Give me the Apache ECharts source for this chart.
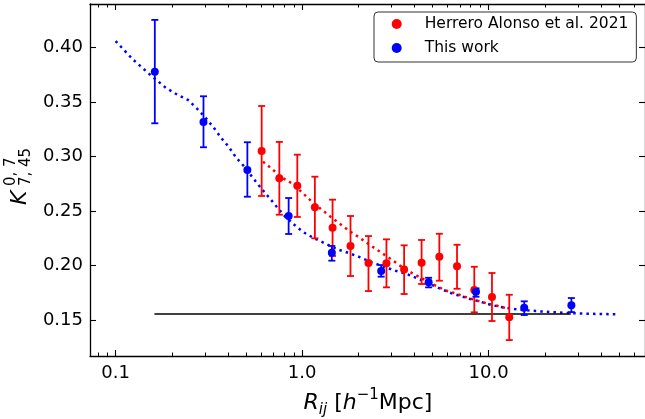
<!DOCTYPE html>
<html><head><meta charset="utf-8">
<script src="https://cdn.jsdelivr.net/npm/echarts@6/dist/echarts.min.js"></script>
<style>html,body{margin:0;padding:0;background:#fff}#c{width:645px;height:419px}</style>
</head><body><div id="c"></div>
<script>
// ---- data ----
const redName = 'Herrero Alonso et al. 2021';
const blueName = 'This work';

const redX  = [0.607, 0.755, 0.9426, 1.171, 1.457, 1.818, 2.270, 2.834, 3.525, 4.374, 5.445, 6.774, 8.384, 10.43, 12.91];
const redY  = [0.3052, 0.2801, 0.2733, 0.2535, 0.2348, 0.2180, 0.2023, 0.2021, 0.1964, 0.2026, 0.2080, 0.1993, 0.1775, 0.1711, 0.1525];
const redLo = [0.2639, 0.2467, 0.2446, 0.2250, 0.2088, 0.1904, 0.1766, 0.1800, 0.1739, 0.1831, 0.1861, 0.1787, 0.1571, 0.1491, 0.1316];
const redHi = [0.3465, 0.3135, 0.3018, 0.2816, 0.2605, 0.2455, 0.2271, 0.2241, 0.2186, 0.2235, 0.2292, 0.2191, 0.1989, 0.1932, 0.1732];

const blueX  = [0.1623, 0.296, 0.5088, 0.847, 1.444, 2.655, 4.77, 8.56, 15.53, 27.8];
const blueY  = [0.3780, 0.3318, 0.2877, 0.2455, 0.2118, 0.1950, 0.1846, 0.1760, 0.1613, 0.1635];
const blueLo = [0.3306, 0.3086, 0.2632, 0.2290, 0.2045, 0.1898, 0.1800, 0.1714, 0.1546, 0.1573];
const blueHi = [0.4255, 0.3554, 0.3132, 0.2620, 0.2180, 0.2005, 0.1888, 0.1791, 0.1672, 0.1702];

const blueModelX = [0.100,0.1242,0.1559,0.1866,0.2137,0.2447,0.2734,0.3043,0.3358,0.3675,0.4042,0.4444,0.4904,0.5413,0.5973,0.6594,0.7276,0.806,0.912,1.019,1.162,1.336,1.543,1.781,2.049,2.364,2.741,3.166,3.659,4.204,4.834,5.513,6.215,6.997,7.98,9.173,10.38,11.88,13.73,16.11,18.75,21.66,25.2,29.59,34.6,40.76,50.1];
const blueModelY = [0.406,0.389,0.374,0.363,0.357,0.352,0.344,0.3355,0.3266,0.3174,0.309,0.2988,0.2908,0.281,0.2719,0.2632,0.2544,0.2455,0.2372,0.2305,0.225,0.2201,0.2149,0.2115,0.2076,0.203,0.1989,0.1953,0.1922,0.1878,0.1833,0.1787,0.1751,0.1723,0.1693,0.1665,0.1638,0.1617,0.1601,0.1589,0.158,0.1573,0.1567,0.1562,0.1558,0.1555,0.1553];

const redModelX = [0.6168,0.6928,0.7796,0.8817,0.9901,1.1145,1.256,1.421,1.607,1.818,2.057,2.327,2.632,3.025,3.451,3.905,4.472,5.138,5.843,6.635,7.532,8.56,9.757,11.13,12.70];
const redModelY = [0.2954,0.2884,0.2807,0.2755,0.2678,0.2595,0.2522,0.2449,0.2379,0.2311,0.225,0.2186,0.2124,0.2054,0.1984,0.1929,0.1876,0.1821,0.1773,0.1745,0.1711,0.1681,0.1653,0.1631,0.1604];

const refLineX = [0.1615, 27.6];
const refLineY = 0.1555;

const xMajorTicks = [0.1, 1, 10];
const xMinorTicks = [0.08, 0.09, 0.2, 0.3, 0.4, 0.5, 0.6, 0.7, 0.8, 0.9, 2, 3, 4, 5, 6, 7, 8, 9, 20, 30, 40, 50, 60];
const yTicks = [0.15, 0.20, 0.25, 0.30, 0.35, 0.40];
const xRange = [0.0729, 69.0];
const yRange = [0.117, 0.4401];

// ---- helpers ----
const zip = (a, b) => a.map((v, i) => [v, b[i]]);
const zip4 = (a, b, c, d) => a.map((v, i) => [v, b[i], c[i], d[i]]);
const FONT = 'DejaVu Sans';
const RED = '#ff0000', BLUE = '#0000ff';

function xLabel(v) {
  const e = Math.round(Math.log10(v));
  if (Math.abs(Math.log10(v) - e) > 1e-6) return '';
  return e < 0 ? Math.pow(10, e).toFixed(-e) : Math.pow(10, e).toFixed(1);
}

function errorBarSeries(name, color, data) {
  return {
    type: 'custom', name: name, xAxisIndex: 0, yAxisIndex: 0, z: 3, silent: true,
    data: data,
    renderItem: function (params, api) {
      const x = api.value(0);
      const top = api.coord([x, api.value(3)]);
      const bot = api.coord([x, api.value(2)]);
      const cw = 3.5;
      const st = { stroke: color, lineWidth: 1.8 };
      return { type: 'group', children: [
        { type: 'line', shape: { x1: top[0], y1: top[1], x2: bot[0], y2: bot[1] }, style: st },
        { type: 'line', shape: { x1: top[0] - cw, y1: top[1], x2: top[0] + cw, y2: top[1] }, style: st },
        { type: 'line', shape: { x1: bot[0] - cw, y1: bot[1], x2: bot[0] + cw, y2: bot[1] }, style: st }
      ]};
    }
  };
}

// minor log ticks on bottom and top edges, placed through the x scale
const minorTickSeries = {
  type: 'custom', name: 'minor-ticks', xAxisIndex: 0, yAxisIndex: 0, z: 5, silent: true, clip: false,
  data: xMinorTicks.map(v => [v, yRange[0]]),
  renderItem: function (params, api) {
    const cs = params.coordSys;
    const px = Math.round(api.coord([api.value(0), yRange[0]])[0]) + 0.5;
    const yb = cs.y + cs.height, yt = cs.y;
    const st = { stroke: '#000', lineWidth: 1 };
    return { type: 'group', children: [
      { type: 'line', shape: { x1: px, y1: yb, x2: px, y2: yb - 3.5 }, style: st },
      { type: 'line', shape: { x1: px, y1: yt, x2: px, y2: yt + 3.5 }, style: st }
    ]};
  }
};

const axisLineStyle = { color: '#000', width: 1.3 };
function xAxisDef(pos) {
  return {
    type: 'log', logBase: 10, min: xRange[0], max: xRange[1], position: pos, gridIndex: 0,
    axisLine: { show: true, onZero: false, lineStyle: axisLineStyle },
    axisTick: { show: true, inside: true, length: 6, customValues: xMajorTicks,
                lineStyle: { color: '#000', width: 1.1 } },
    axisLabel: { show: pos === 'bottom', customValues: xMajorTicks, formatter: xLabel,
                 fontSize: 18, fontFamily: FONT, color: '#000', margin: 8 },
    splitLine: { show: false }, minorTick: { show: false }
  };
}
function yAxisDef(pos) {
  return {
    type: 'value', min: yRange[0], max: yRange[1], position: pos, gridIndex: 0,
    axisLine: { show: true, onZero: false, lineStyle: axisLineStyle },
    axisTick: { show: true, inside: true, length: 6, customValues: yTicks, lineStyle: { color: '#000', width: 1.1 } },
    axisLabel: { show: pos === 'left', customValues: yTicks, formatter: v => v.toFixed(2),
                 fontSize: 18, fontFamily: FONT, color: '#000', margin: 7 },
    splitLine: { show: false }
  };
}

const chart = echarts.init(document.getElementById('c'), null, { renderer: 'canvas' });
chart.setOption({
  animation: false,
  backgroundColor: '#fff',
  grid: { left: 90, top: 4, width: 556, height: 352, containLabel: false },
  xAxis: [xAxisDef('bottom'), xAxisDef('top')],
  yAxis: [yAxisDef('left'), yAxisDef('right')],
  legend: {
    show: true, orient: 'vertical', left: 374, top: 12,
    data: [redName, blueName],
    icon: 'circle', itemWidth: 10, itemHeight: 10, itemGap: 8,
    padding: [4, 8, 6, 17.7],
    backgroundColor: '#fff', borderColor: '#333', borderWidth: 1, borderRadius: 4,
    formatter: n => '{g|}' + n,
    textStyle: { fontSize: 15.5, fontFamily: FONT, color: '#000', lineHeight: 16,
                 rich: { g: { width: 18 } } },
    selectedMode: false
  },
  series: [
    { type: 'line', name: 'model-blue', xAxisIndex: 0, yAxisIndex: 0, data: zip(blueModelX, blueModelY),
      showSymbol: false, silent: true, z: 2,
      lineStyle: { color: BLUE, width: 2.5, type: [2.5, 4.1] } },
    { type: 'line', name: 'model-red', xAxisIndex: 0, yAxisIndex: 0, data: zip(redModelX, redModelY),
      showSymbol: false, silent: true, z: 2,
      lineStyle: { color: RED, width: 2.5, type: [2.5, 4.1] } },
    { type: 'line', name: 'ref', xAxisIndex: 0, yAxisIndex: 0,
      data: refLineX.map(x => [x, refLineY]), showSymbol: false, silent: true, z: 2,
      lineStyle: { color: '#000', width: 1.5 } },
    errorBarSeries('err-red', RED, zip4(redX, redY, redLo, redHi)),
    errorBarSeries('err-blue', BLUE, zip4(blueX, blueY, blueLo, blueHi)),
    { type: 'scatter', name: redName, xAxisIndex: 0, yAxisIndex: 0, data: zip(redX, redY),
      symbol: 'circle', symbolSize: 8, itemStyle: { color: RED, opacity: 1 }, z: 4 },
    { type: 'scatter', name: blueName, xAxisIndex: 0, yAxisIndex: 0, data: zip(blueX, blueY),
      symbol: 'circle', symbolSize: 8, itemStyle: { color: BLUE, opacity: 1 }, z: 4 },
    minorTickSeries
  ],
  graphic: [
    { type: 'text', x: 368, y: 403, z: 10, silent: true,
      style: {
        text: '{r|R}{s|ij}{n| [}{r|h}{p|\u22121}{n|Mpc]}',
        align: 'center', verticalAlign: 'middle', fill: '#000',
        rich: {
          r: { fontSize: 22, fontStyle: 'italic', fontFamily: FONT, lineHeight: 30, fill: '#000' },
          n: { fontSize: 22, fontFamily: FONT, lineHeight: 30, fill: '#000' },
          s: { fontSize: 15, fontStyle: 'italic', fontFamily: FONT, lineHeight: 16, verticalAlign: 'bottom', fill: '#000' },
          p: { fontSize: 15, fontFamily: FONT, lineHeight: 14, verticalAlign: 'top', fill: '#000' }
        }
      } },
    { type: 'group', x: 20, y: 205, rotation: Math.PI / 2, z: 10, silent: true,
      children: [
        { type: 'text', x: 0, y: 0, style: { text: 'K', fontSize: 22, fontStyle: 'italic', fontFamily: FONT,
            align: 'left', verticalAlign: 'middle', fill: '#000' } },
        { type: 'text', x: 19, y: -9, style: { text: '0, 7', fontSize: 15, fontFamily: FONT,
            align: 'left', verticalAlign: 'middle', fill: '#000' } },
        { type: 'text', x: 19, y: 6, style: { text: '7, 45', fontSize: 15, fontFamily: FONT,
            align: 'left', verticalAlign: 'middle', fill: '#000' } }
      ] }
  ]
});
</script>
</body></html>
